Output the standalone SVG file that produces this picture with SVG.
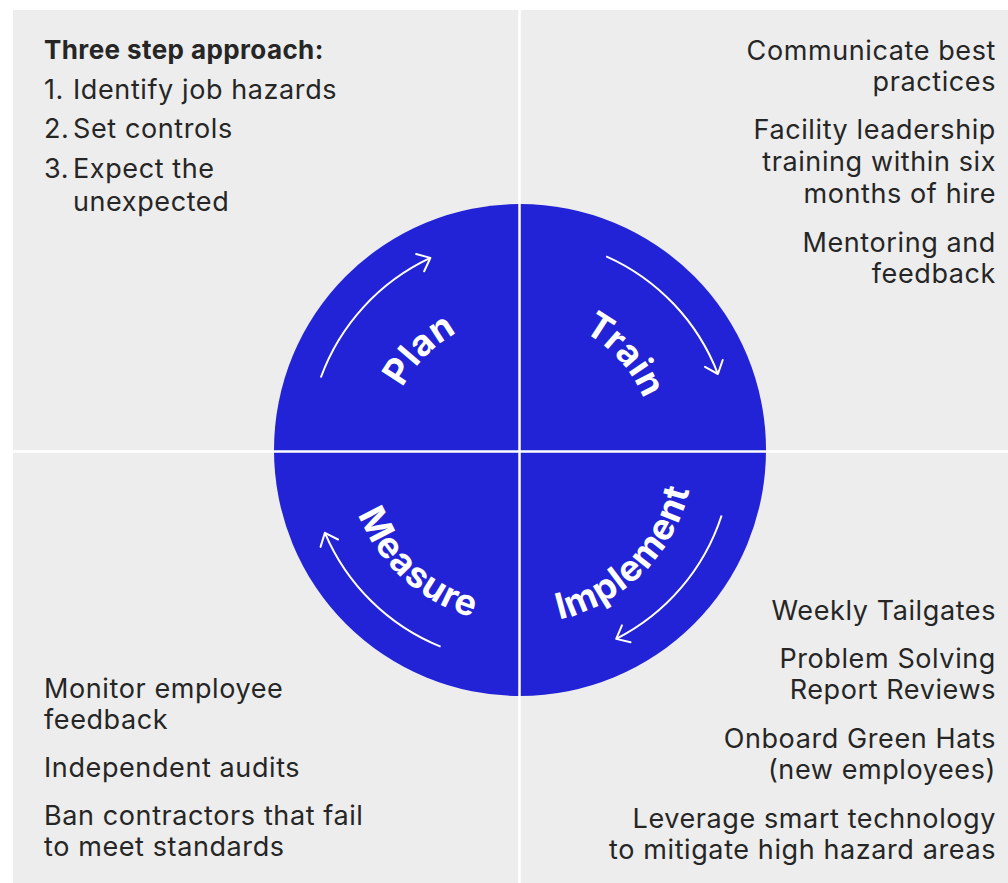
<svg xmlns="http://www.w3.org/2000/svg" width="1008" height="883" viewBox="0 0 1008 883">
  <style>
    .body { font-family: Inter, "Liberation Sans", sans-serif; font-size: 27px; letter-spacing: 0.6px; fill: #262626; }
    .head { font-family: Inter, "Liberation Sans", sans-serif; font-size: 26px; letter-spacing: 0.4px; font-weight: 700; fill: #262626; }
    .right { text-anchor: end; }
    .lbl { font-family: Inter, "Liberation Sans", sans-serif; font-size: 36px; letter-spacing: 0.8px; font-weight: 700; fill: #ffffff; }
    .arc { fill: none; stroke: #ffffff; stroke-width: 2; marker-end: url(#chev); }
    .div { stroke: #ffffff; stroke-width: 2.5; }
  </style>
  <defs>
    <marker id="chev" markerUnits="userSpaceOnUse" markerWidth="30" markerHeight="30" viewBox="-15 -15 30 30" refX="0" refY="0" orient="auto">
      <path d="M-11.3,-9.5 L0,0 L-11.3,9.5" fill="none" stroke="#ffffff" stroke-width="2" stroke-linecap="round" stroke-linejoin="round"/>
    </marker>
    <!-- text paths: top arcs clockwise, bottom arcs counter-clockwise -->
    <path id="pPlan" d="M 387,450 A 133,133 0 0 1 520,317"/>
    <path id="pTrain" d="M 527.0,316.2 A 134,134 0 0 1 653.8,457.0"/>
    <path id="pImpl" d="M 520,624 A 174,174 0 0 0 694,450"/>
    <path id="pMeas" d="M 346.2,459.1 A 174,174 0 0 0 529.1,623.8"/>
  </defs>

  <g id="background">
    <rect x="0" y="0" width="1008" height="883" fill="#ffffff"/>
    <rect x="13" y="10" width="995" height="873" fill="#ecedec"/>
  </g>

  <g id="cycle">
    <circle cx="520" cy="450" r="246" fill="#2222d6"/>
  </g>

  <g id="dividers">
    <line class="div" x1="519.5" y1="10" x2="519.5" y2="883"/>
    <line class="div" x1="13" y1="451.5" x2="1008" y2="451.5"/>
  </g>

  <g id="connectors">
    <path class="arc" d="M 320.8,377.5 A 212,212 0 0 1 430.4,257.9"/>
    <path class="arc" d="M 606.2,256.3 A 212,212 0 0 1 717.9,374.0"/>
    <path class="arc" d="M 721.6,515.5 A 212,212 0 0 1 616.2,638.9"/>
    <path class="arc" d="M 440.6,646.6 A 212,212 0 0 1 324.9,532.8"/>
  </g>

  <g id="node-plan">
    <text class="lbl"><textPath href="#pPlan" startOffset="50%" text-anchor="middle">Plan</textPath></text>
  </g>
  <g id="node-train">
    <text class="lbl"><textPath href="#pTrain" startOffset="50%" text-anchor="middle">Train</textPath></text>
  </g>
  <g id="node-implement">
    <text class="lbl"><textPath href="#pImpl" startOffset="50%" text-anchor="middle">Implement</textPath></text>
  </g>
  <g id="node-measure">
    <text class="lbl"><textPath href="#pMeas" startOffset="50%" text-anchor="middle">Measure</textPath></text>
  </g>

  <g id="plan-notes">
    <text class="head" x="44" y="59">Three step approach:</text>
    <text class="body" x="44" y="99">1.</text>
    <text class="body" x="73" y="99">Identify job hazards</text>
    <text class="body" x="44" y="138">2.</text>
    <text class="body" x="73" y="138">Set controls</text>
    <text class="body" x="44" y="178">3.</text>
    <text class="body" x="73" y="178">Expect the</text>
    <text class="body" x="73" y="211">unexpected</text>
  </g>

  <g id="train-notes">
    <text class="body right" x="996" y="60">Communicate best</text>
    <text class="body right" x="996" y="91">practices</text>
    <text class="body right" x="996" y="139">Facility leadership</text>
    <text class="body right" x="996" y="171">training within six</text>
    <text class="body right" x="996" y="203">months of hire</text>
    <text class="body right" x="996" y="252">Mentoring and</text>
    <text class="body right" x="996" y="283">feedback</text>
  </g>

  <g id="implement-notes">
    <text class="body right" x="996" y="620">Weekly Tailgates</text>
    <text class="body right" x="996" y="668">Problem Solving</text>
    <text class="body right" x="996" y="699">Report Reviews</text>
    <text class="body right" x="996" y="748">Onboard Green Hats</text>
    <text class="body right" x="996" y="779">(new employees)</text>
    <text class="body right" x="996" y="828">Leverage smart technology</text>
    <text class="body right" x="996" y="859">to mitigate high hazard areas</text>
  </g>

  <g id="measure-notes">
    <text class="body" x="44" y="698">Monitor employee</text>
    <text class="body" x="44" y="729">feedback</text>
    <text class="body" x="44" y="777">Independent audits</text>
    <text class="body" x="44" y="825">Ban contractors that fail</text>
    <text class="body" x="44" y="856">to meet standards</text>
  </g>
</svg>
